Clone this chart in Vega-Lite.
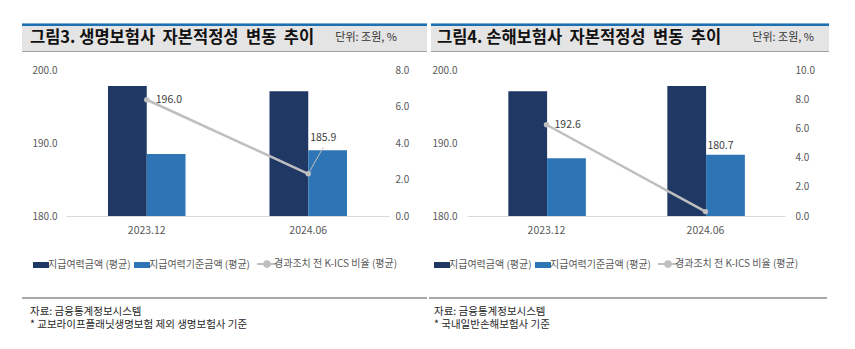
{
  "$schema": "https://vega.github.io/schema/vega-lite/v6.json",
  "padding": {"left": 20, "top": 23, "right": 0, "bottom": 0},
  "background": "white",
  "config": {"font": "Noto Sans CJK KR", "view": {"stroke": null}, "axis": {"labelOverlap": false}},
  "datasets": {
    "life": [
      {"period": "2023.12", "series": "지급여력금액 (평균)", "value": 197.8},
      {"period": "2023.12", "series": "지급여력기준금액 (평균)", "value": 188.5},
      {"period": "2024.06", "series": "지급여력금액 (평균)", "value": 197.1},
      {"period": "2024.06", "series": "지급여력기준금액 (평균)", "value": 189.0},
      {"period": "2023.12", "series": "경과조치 전 K-ICS 비율 (평균)", "value": 6.37, "kics": 196.0},
      {"period": "2024.06", "series": "경과조치 전 K-ICS 비율 (평균)", "value": 2.31, "kics": 185.9}
    ],
    "nonlife": [
      {"period": "2023.12", "series": "지급여력금액 (평균)", "value": 197.1},
      {"period": "2023.12", "series": "지급여력기준금액 (평균)", "value": 187.9},
      {"period": "2024.06", "series": "지급여력금액 (평균)", "value": 197.8},
      {"period": "2024.06", "series": "지급여력기준금액 (평균)", "value": 188.4},
      {"period": "2023.12", "series": "경과조치 전 K-ICS 비율 (평균)", "value": 6.25, "kics": 192.6},
      {"period": "2024.06", "series": "경과조치 전 K-ICS 비율 (평균)", "value": 0.3, "kics": 180.7}
    ],
    "head1": [{"title": "그림3. 생명보험사 \u00a0자본적정성 \u00a0변동 \u00a0추이", "unit": "단위: 조원, %"}],
    "head2": [{"title": "그림4. 손해보험사 \u00a0자본적정성 \u00a0변동 \u00a0추이", "unit": "단위: 조원, %"}],
    "foot1": [{"line": 1, "text": "자료: 금융통계정보시스템"}, {"line": 2, "text": "* 교보라이프플래닛생명보험 제외 생명보험사 기준"}],
    "foot2": [{"line": 1, "text": "자료: 금융통계정보시스템"}, {"line": 2, "text": "* 국내일반손해보험사 기준"}]
  },
  "columns": 1,
  "spacing": 26,
  "concat": [
    {
      "columns": 1,
      "spacing": 12,
      "concat": [
        {
          "hconcat": [
            {
              "width": 405, "height": 29,
              "view": {"fill": "#e4e4e4", "stroke": null},
              "data": {"name": "head1"},
              "layer": [
                {"mark": {"type": "rule", "color": "#1b6fb3", "strokeWidth": 2.5}, "encoding": {"y": {"datum": 28.2, "type": "quantitative", "scale": {"domain": [0, 29]}, "axis": null}}},
                {"mark": {"type": "rule", "color": "#a0a0a0", "strokeWidth": 1}, "encoding": {"y": {"datum": 0.5, "type": "quantitative"}}},
                {"mark": {"type": "text", "align": "left", "baseline": "middle", "dx": 8, "fontSize": 16.5, "fontWeight": "bold", "color": "#111111"}, "encoding": {"text": {"field": "title"}, "x": {"datum": 0, "type": "quantitative", "scale": {"domain": [0, 1]}, "axis": null}, "y": {"datum": 14.5, "type": "quantitative"}}},
                {"mark": {"type": "text", "align": "right", "baseline": "middle", "dx": -30, "fontSize": 11, "color": "#333333"}, "encoding": {"text": {"field": "unit"}, "x": {"datum": 1, "type": "quantitative"}, "y": {"datum": 14.5, "type": "quantitative"}}}
              ]
            },
            {
              "width": 398, "height": 29,
              "view": {"fill": "#e4e4e4", "stroke": null},
              "data": {"name": "head2"},
              "layer": [
                {"mark": {"type": "rule", "color": "#1b6fb3", "strokeWidth": 2.5}, "encoding": {"y": {"datum": 28.2, "type": "quantitative", "scale": {"domain": [0, 29]}, "axis": null}}},
                {"mark": {"type": "rule", "color": "#a0a0a0", "strokeWidth": 1}, "encoding": {"y": {"datum": 0.5, "type": "quantitative"}}},
                {"mark": {"type": "text", "align": "left", "baseline": "middle", "dx": 6, "fontSize": 16.5, "fontWeight": "bold", "color": "#111111"}, "encoding": {"text": {"field": "title"}, "x": {"datum": 0, "type": "quantitative", "scale": {"domain": [0, 1]}, "axis": null}, "y": {"datum": 14.5, "type": "quantitative"}}},
                {"mark": {"type": "text", "align": "right", "baseline": "middle", "dx": -15, "fontSize": 11, "color": "#333333"}, "encoding": {"text": {"field": "unit"}, "x": {"datum": 1, "type": "quantitative"}, "y": {"datum": 14.5, "type": "quantitative"}}}
              ]
            }
          ],
          "spacing": 0
        },
        {
          "hconcat": [
            {
              "width": 367, "height": 146,
              "data": {"name": "life"},
              "layer": [
                {
                  "transform": [{"filter": "datum.series !== '경과조치 전 K-ICS 비율 (평균)'"}],
                  "mark": {"type": "bar"},
                  "encoding": {
                    "x": {"field": "period", "type": "nominal", "scale": {"range": [44, 367], "paddingInner": 0.52, "paddingOuter": 0.26}, "axis": {"title": null, "labelAngle": 0, "ticks": false, "domainColor": "#d9d9d9", "labelColor": "#595959", "labelFontSize": 10.5, "labelPadding": 9}},
                    "xOffset": {"field": "series", "type": "nominal", "scale": {"domain": ["지급여력금액 (평균)", "지급여력기준금액 (평균)"], "paddingInner": 0}},
                    "y": {"field": "value", "type": "quantitative", "scale": {"domain": [180, 200], "zero": false}, "axis": {"title": null, "offset": -44, "values": [180, 190, 200], "tickCount": 10, "format": ".1f", "domain": false, "ticks": false, "grid": false, "labelOverlap": false, "labelColor": "#595959", "labelFontSize": 10, "labelPadding": 9}},
                    "y2": {"datum": 180},
                    "color": {
                      "field": "series", "type": "nominal",
                      "scale": {"domain": ["지급여력금액 (평균)", "지급여력기준금액 (평균)", "경과조치 전 K-ICS 비율 (평균)"], "range": ["#1f3864", "#2e75b6", "#bfbfbf"]},
                      "legend": {
                        "orient": "none", "legendX": 14, "legendY": 189, "direction": "horizontal", "columns": 3, "title": null,
                        "labelFontSize": 10, "labelColor": "#595959", "labelOffset": 2, "columnPadding": 3, "padding": 0, "symbolSize": 400,
                        "encode": {"symbols": {"update": {
                          "shape": {"signal": "datum.value === '경과조치 전 K-ICS 비율 (평균)' ? 'M-1,0H1M-0.28,0A0.28,0.28 0 1,0 0.28,0A0.28,0.28 0 1,0 -0.28,0' : 'M-1,-0.375H1V0.375H-1Z'"},
                          "size": {"signal": "datum.value === '경과조치 전 K-ICS 비율 (평균)' ? 400 : 256"},
                          "fill": {"signal": "datum.value === '지급여력금액 (평균)' ? '#1f3864' : datum.value === '지급여력기준금액 (평균)' ? '#2e75b6' : '#bfbfbf'"},
                          "stroke": {"signal": "datum.value === '경과조치 전 K-ICS 비율 (평균)' ? '#bfbfbf' : 'transparent'"},
                          "strokeWidth": {"signal": "datum.value === '경과조치 전 K-ICS 비율 (평균)' ? 2 : 0"},
                          "opacity": {"value": 1}
                        }}}
                      }
                    }
                  }
                },
                {
                  "transform": [{"filter": "datum.series === '경과조치 전 K-ICS 비율 (평균)'"}],
                  "layer": [
                    {
                      "mark": {"type": "line", "strokeWidth": 2.5, "point": {"filled": true, "size": 30}},
                      "encoding": {
                        "x": {"field": "period", "type": "nominal"},
                        "y": {"field": "value", "type": "quantitative", "scale": {"domain": [0, 8]}, "axis": {"orient": "right", "title": null, "values": [0, 2, 4, 6, 8], "tickCount": 10, "format": ".1f", "domain": false, "ticks": false, "grid": false, "labelOverlap": false, "labelColor": "#595959", "labelFontSize": 10, "labelPadding": 6, "minExtent": 30}},
                        "color": {"field": "series", "type": "nominal"}
                      }
                    },
                    {
                      "transform": [{"filter": "datum.period === '2024.06'"}],
                      "mark": {"type": "rule", "color": "#bfbfbf", "strokeWidth": 1, "x2Offset": 15},
                      "encoding": {
                        "x": {"field": "period", "type": "nominal"},
                        "x2": {"field": "period"},
                        "y": {"field": "value", "type": "quantitative"},
                        "y2": {"datum": 3.76}
                      }
                    },
                    {
                      "transform": [{"filter": "datum.period === '2023.12'"}],
                      "mark": {"type": "text", "align": "left", "baseline": "middle", "dx": 9, "fontSize": 10.5, "color": "#404040"},
                      "encoding": {
                        "x": {"field": "period", "type": "nominal"},
                        "y": {"field": "value", "type": "quantitative"},
                        "text": {"field": "kics", "type": "quantitative", "format": ".1f"}
                      }
                    },
                    {
                      "transform": [{"filter": "datum.period === '2024.06'"}],
                      "mark": {"type": "text", "align": "center", "baseline": "middle", "dx": 15, "fontSize": 10.5, "color": "#404040"},
                      "encoding": {
                        "x": {"field": "period", "type": "nominal"},
                        "y": {"datum": 4.26, "type": "quantitative"},
                        "text": {"field": "kics", "type": "quantitative", "format": ".1f"}
                      }
                    }
                  ]
                }
              ],
              "resolve": {"scale": {"y": "independent"}, "axis": {"y": "independent"}}
            },
            {
              "width": 358, "height": 146,
              "data": {"name": "nonlife"},
              "layer": [
                {
                  "transform": [{"filter": "datum.series !== '경과조치 전 K-ICS 비율 (평균)'"}],
                  "mark": {"type": "bar"},
                  "encoding": {
                    "x": {"field": "period", "type": "nominal", "scale": {"range": [40, 358], "paddingInner": 0.52, "paddingOuter": 0.26}, "axis": {"title": null, "labelAngle": 0, "ticks": false, "domainColor": "#d9d9d9", "labelColor": "#595959", "labelFontSize": 10.5, "labelPadding": 9}},
                    "xOffset": {"field": "series", "type": "nominal", "scale": {"domain": ["지급여력금액 (평균)", "지급여력기준금액 (평균)"], "paddingInner": 0}},
                    "y": {"field": "value", "type": "quantitative", "scale": {"domain": [180, 200], "zero": false}, "axis": {"title": null, "offset": -40, "values": [180, 190, 200], "tickCount": 10, "format": ".1f", "domain": false, "ticks": false, "grid": false, "labelOverlap": false, "labelColor": "#595959", "labelFontSize": 10, "labelPadding": 10}},
                    "y2": {"datum": 180},
                    "color": {
                      "field": "series", "type": "nominal",
                      "scale": {"domain": ["지급여력금액 (평균)", "지급여력기준금액 (평균)", "경과조치 전 K-ICS 비율 (평균)"], "range": ["#1f3864", "#2e75b6", "#bfbfbf"]},
                      "legend": {
                        "orient": "none", "legendX": 10, "legendY": 189, "direction": "horizontal", "columns": 3, "title": null,
                        "labelFontSize": 10, "labelColor": "#595959", "labelOffset": 2, "columnPadding": 3, "padding": 0, "symbolSize": 400,
                        "encode": {"symbols": {"update": {
                          "shape": {"signal": "datum.value === '경과조치 전 K-ICS 비율 (평균)' ? 'M-1,0H1M-0.28,0A0.28,0.28 0 1,0 0.28,0A0.28,0.28 0 1,0 -0.28,0' : 'M-1,-0.375H1V0.375H-1Z'"},
                          "size": {"signal": "datum.value === '경과조치 전 K-ICS 비율 (평균)' ? 400 : 256"},
                          "fill": {"signal": "datum.value === '지급여력금액 (평균)' ? '#1f3864' : datum.value === '지급여력기준금액 (평균)' ? '#2e75b6' : '#bfbfbf'"},
                          "stroke": {"signal": "datum.value === '경과조치 전 K-ICS 비율 (평균)' ? '#bfbfbf' : 'transparent'"},
                          "strokeWidth": {"signal": "datum.value === '경과조치 전 K-ICS 비율 (평균)' ? 2 : 0"},
                          "opacity": {"value": 1}
                        }}}
                      }
                    }
                  }
                },
                {
                  "transform": [{"filter": "datum.series === '경과조치 전 K-ICS 비율 (평균)'"}],
                  "layer": [
                    {
                      "mark": {"type": "line", "strokeWidth": 2.5, "point": {"filled": true, "size": 30}},
                      "encoding": {
                        "x": {"field": "period", "type": "nominal"},
                        "y": {"field": "value", "type": "quantitative", "scale": {"domain": [0, 10]}, "axis": {"orient": "right", "title": null, "values": [0, 2, 4, 6, 8, 10], "tickCount": 10, "format": ".1f", "domain": false, "ticks": false, "grid": false, "labelOverlap": false, "labelColor": "#595959", "labelFontSize": 10, "labelPadding": 10, "minExtent": 30}},
                        "color": {"field": "series", "type": "nominal"}
                      }
                    },
                    {
                      "transform": [{"filter": "datum.period === '2023.12'"}],
                      "mark": {"type": "text", "align": "left", "baseline": "middle", "dx": 8, "fontSize": 10.5, "color": "#404040"},
                      "encoding": {
                        "x": {"field": "period", "type": "nominal"},
                        "y": {"field": "value", "type": "quantitative"},
                        "text": {"field": "kics", "type": "quantitative", "format": ".1f"}
                      }
                    },
                    {
                      "transform": [{"filter": "datum.period === '2024.06'"}],
                      "mark": {"type": "text", "align": "center", "baseline": "middle", "dx": 15, "fontSize": 10.5, "color": "#404040"},
                      "encoding": {
                        "x": {"field": "period", "type": "nominal"},
                        "y": {"datum": 4.82, "type": "quantitative"},
                        "text": {"field": "kics", "type": "quantitative", "format": ".1f"}
                      }
                    }
                  ]
                }
              ],
              "resolve": {"scale": {"y": "independent"}, "axis": {"y": "independent"}}
            }
          ],
          "spacing": 8,
          "resolve": {"scale": {"color": "independent"}, "legend": {"color": "independent"}}
        }
      ]
    },
    {
      "hconcat": [
        {
          "width": 405, "height": 28,
          "data": {"name": "foot1"},
          "layer": [
            {"mark": {"type": "rule", "color": "#8c8c8c", "strokeWidth": 1}, "encoding": {"y": {"datum": 0, "type": "ordinal", "scale": {"type": "point", "domain": [0, 1, 2], "range": [0, 27], "padding": 0}, "axis": null}}},
            {"mark": {"type": "text", "align": "left", "baseline": "middle", "dx": 8, "fontSize": 10.5, "color": "#262626"}, "encoding": {"text": {"field": "text"}, "x": {"datum": 0, "type": "quantitative", "scale": {"domain": [0, 1]}, "axis": null}, "y": {"field": "line", "type": "ordinal"}}}
          ]
        },
        {
          "width": 398, "height": 28,
          "data": {"name": "foot2"},
          "layer": [
            {"mark": {"type": "rule", "color": "#8c8c8c", "strokeWidth": 1}, "encoding": {"y": {"datum": 0, "type": "ordinal", "scale": {"type": "point", "domain": [0, 1, 2], "range": [0, 27], "padding": 0}, "axis": null}}},
            {"mark": {"type": "text", "align": "left", "baseline": "middle", "dx": 5, "fontSize": 10.5, "color": "#262626"}, "encoding": {"text": {"field": "text"}, "x": {"datum": 0, "type": "quantitative", "scale": {"domain": [0, 1]}, "axis": null}, "y": {"field": "line", "type": "ordinal"}}}
          ]
        }
      ],
      "spacing": 0
    }
  ]
}
